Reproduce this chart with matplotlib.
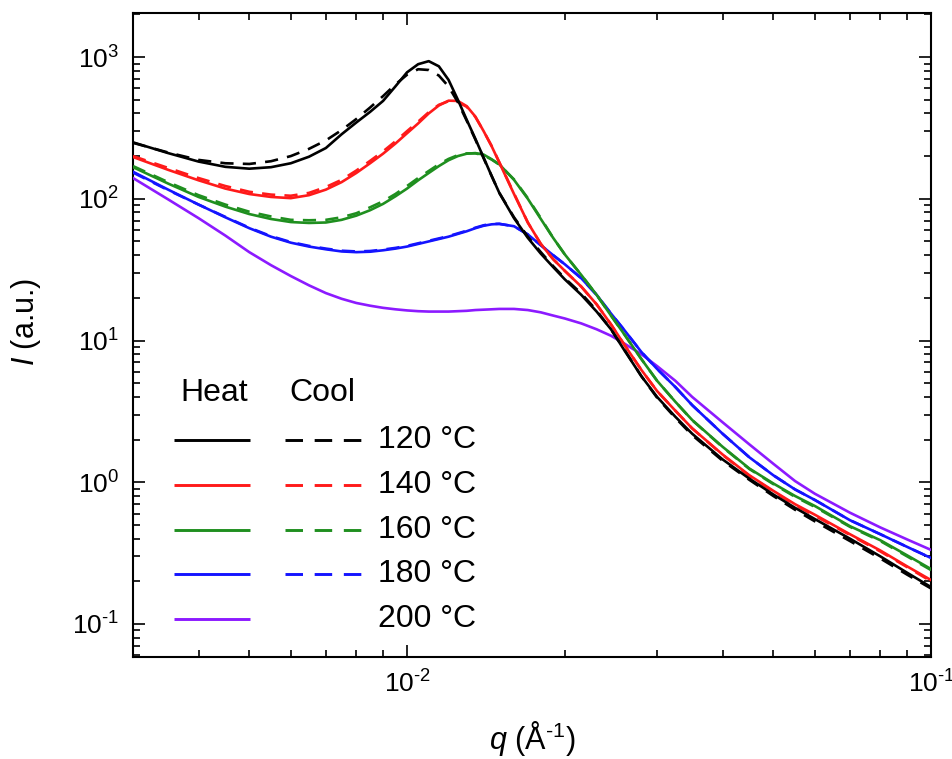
import matplotlib
matplotlib.use("Agg")
import numpy as np
import matplotlib.pyplot as plt
from matplotlib.ticker import LogLocator, NullFormatter, FuncFormatter


# -----------------------------
# Fonts
# -----------------------------
plt.rcParams["font.family"] = ["Liberation Sans", "DejaVu Sans"]
plt.rcParams["mathtext.fontset"] = "custom"
plt.rcParams["mathtext.rm"] = "Liberation Sans"
plt.rcParams["mathtext.it"] = "Liberation Sans:italic"
plt.rcParams["mathtext.bf"] = "Liberation Sans:bold"


# -----------------------------
# Data
# -----------------------------
q = [0.0030, 0.0035, 0.0040, 0.0045, 0.0050, 0.0055, 0.0060, 0.0065, 0.0070, 0.0075,
     0.0080, 0.0085, 0.0090, 0.0095, 0.0100, 0.0105, 0.0110, 0.0115, 0.0120, 0.0125,
     0.0130, 0.0135, 0.0140, 0.0145, 0.0150, 0.0160, 0.0170, 0.0180, 0.0190, 0.0200,
     0.0215, 0.0230, 0.0245, 0.0260, 0.0280, 0.0300, 0.0325, 0.0350, 0.0400, 0.0450,
     0.0500, 0.0550, 0.0600, 0.0700, 0.0800, 0.0900, 0.1000]

heat_120 = [250, 210, 183, 168, 163, 167, 178, 198, 228, 285,
            345, 410, 490, 620, 780, 890, 935, 860, 690, 500,
            360, 265, 195, 145, 110, 73, 53, 41, 33, 27,
            21, 16, 12, 8.5, 5.6, 4.0, 2.9, 2.2, 1.45, 1.06,
            0.82, 0.66, 0.55, 0.40, 0.30, 0.23, 0.182]
cool_120 = [248, 212, 188, 178, 176, 184, 200, 225, 258, 305,
            365, 440, 530, 640, 750, 820, 810, 740, 620, 480,
            355, 262, 193, 145, 110, 74, 54, 42, 33.5, 27.5,
            21.5, 16.3, 12, 8.6, 5.6, 3.95, 2.85, 2.15, 1.42, 1.04,
            0.80, 0.64, 0.53, 0.385, 0.29, 0.223, 0.178]

heat_140 = [197, 160, 135, 118, 108, 103, 101, 106, 116, 131,
            152, 178, 208, 245, 290, 340, 400, 455, 492, 490,
            450, 380, 300, 235, 180, 108, 68, 48, 37.5, 31,
            24, 18, 13, 9.3, 6.2, 4.4, 3.2, 2.4, 1.57, 1.12,
            0.87, 0.70, 0.59, 0.43, 0.33, 0.255, 0.204]
cool_140 = [200, 165, 140, 123, 112, 107, 105, 110, 121, 136,
            158, 185, 216, 254, 300, 350, 408, 460, 488, 482,
            445, 378, 300, 236, 181, 109, 68, 48, 37.5, 31,
            24, 18, 13, 9.3, 6.2, 4.4, 3.2, 2.4, 1.56, 1.11,
            0.86, 0.69, 0.58, 0.425, 0.325, 0.252, 0.200]

heat_160 = [167, 128, 103, 88, 78, 72, 68.5, 67.5, 68, 71,
            76, 83, 92, 104, 118, 135, 152, 170, 187, 200,
            208, 210, 205, 190, 175, 136, 100, 72, 53, 40.5,
            29, 21, 15, 11, 7.4, 5.2, 3.7, 2.75, 1.78, 1.25,
            0.98, 0.80, 0.68, 0.49, 0.39, 0.305, 0.244]
cool_160 = [170, 131, 106, 91, 81, 75, 71, 70.5, 71, 74,
            79, 87, 96, 108, 123, 140, 157, 175, 191, 203,
            209, 209, 203, 189, 174, 137, 101, 73, 53, 40.5,
            29, 21, 15, 11, 7.4, 5.2, 3.7, 2.74, 1.77, 1.24,
            0.97, 0.79, 0.67, 0.485, 0.385, 0.30, 0.240]

heat_180 = [155, 116, 91, 74, 62, 54, 49, 46, 44, 42.5,
            42, 42.3, 43.3, 44.5, 46, 48, 50, 52, 54, 56.5,
            59, 62, 64.5, 66, 66.5, 64, 56, 47, 40, 34.5,
            27.5, 21, 15.5, 11.8, 8.3, 6.3, 4.7, 3.5, 2.2, 1.5,
            1.12, 0.89, 0.75, 0.54, 0.43, 0.35, 0.292]
cool_180 = [153, 115, 91, 74.5, 62.5, 54.5, 49.5, 46.5, 44.5, 43,
            42.5, 42.8, 43.8, 45, 46.5, 48.5, 50.5, 52.5, 54.5, 57,
            59.5, 62.5, 65, 66.5, 66.5, 64, 56, 47, 40, 34.5,
            27.5, 21, 15.5, 11.8, 8.3, 6.3, 4.7, 3.5, 2.2, 1.5,
            1.12, 0.89, 0.75, 0.54, 0.43, 0.35, 0.292]

heat_200 = [140, 99, 73, 55, 42, 34, 28.5, 24.5, 21.6, 19.7,
            18.4, 17.6, 17, 16.6, 16.3, 16.1, 16.0, 16.0, 16.0, 16.1,
            16.2, 16.4, 16.5, 16.6, 16.7, 16.7, 16.4, 15.8, 15.0, 14.3,
            13.2, 12.0, 10.8, 9.5, 8.0, 6.6, 5.2, 4.0, 2.65, 1.85,
            1.35, 1.02, 0.83, 0.61, 0.48, 0.395, 0.333]

temps = ["120", "140", "160", "180", "200"]
colors = ["#000000", "#ff1a1a", "#1f8f1f", "#1414ff", "#8c1aff"]
heat_curves = [heat_120, heat_140, heat_160, heat_180, heat_200]
cool_curves = [cool_120, cool_140, cool_160, cool_180, None]


# -----------------------------
# Figure
# -----------------------------
fig = plt.figure(figsize=(9.53, 7.59), dpi=100)
ax = fig.add_axes([0.1396, 0.1344, 0.8374, 0.8485])

# draw hottest first so black ends up on top
for i in reversed(range(len(temps))):
    ax.plot(q, heat_curves[i], color=colors[i], lw=1.9, zorder=3 + (5 - i))
    if cool_curves[i] is not None:
        ax.plot(q, cool_curves[i], color=colors[i], lw=1.9,
                linestyle=(0, (5, 3.5)), zorder=3 + (5 - i))

ax.set_xscale("log")
ax.set_yscale("log")
ax.set_xlim(3.0e-3, 0.1)
ax.set_ylim(0.0585, 2045)


def decade_label(val, pos):
    # "10" with a short hyphen in the exponent, like the original figure
    exp = int(round(np.log10(val)))
    if exp < 0:
        return r"$\mathdefault{10^{\text{-}%d}}$" % (-exp)
    return r"$\mathdefault{10^{%d}}$" % exp


for axis in (ax.xaxis, ax.yaxis):
    axis.set_major_locator(LogLocator(base=10, numticks=20))
    axis.set_minor_locator(LogLocator(base=10, subs=range(2, 10), numticks=20))
    axis.set_minor_formatter(NullFormatter())
    axis.set_major_formatter(FuncFormatter(decade_label))

ax.tick_params(which="both", direction="in", top=True, right=True, width=1.2,
               labelsize=19)
ax.tick_params(which="major", length=8.5)
ax.tick_params(which="minor", length=5)
ax.tick_params(axis="y", which="major", pad=10)
ax.tick_params(axis="x", which="major", pad=10)

for spine in ax.spines.values():
    spine.set_linewidth(1.5)

ax.set_xlabel(r"$q$ (Å$^{\text{-}1}$)", fontsize=22)
ax.set_ylabel(r"$I$ (a.u.)", fontsize=22)
ax.xaxis.set_label_coords(0.5, -0.097)
ax.yaxis.set_label_coords(-0.113, 0.52)


# -----------------------------
# Hand-made legend (Heat / Cool columns)
# -----------------------------
tr = ax.transAxes
ax.text(0.1015, 0.41, "Heat", transform=tr, fontsize=23, ha="center", va="center")
ax.text(0.237, 0.41, "Cool", transform=tr, fontsize=23, ha="center", va="center")

row_y = [0.337, 0.267, 0.197, 0.129, 0.059]
for i, t in enumerate(temps):
    y = row_y[i]
    ax.plot([0.0514, 0.1466], [y, y], transform=tr, color=colors[i], lw=2.1,
            solid_capstyle="butt")
    if cool_curves[i] is not None:
        ax.plot([0.1905, 0.287], [y, y], transform=tr, color=colors[i], lw=2.1,
                linestyle=(0, (6, 4)), dash_capstyle="butt")
    ax.text(0.307, y, f"{t} °C", transform=tr, fontsize=23, ha="left", va="center")

fig.savefig("out.png", dpi=100)
